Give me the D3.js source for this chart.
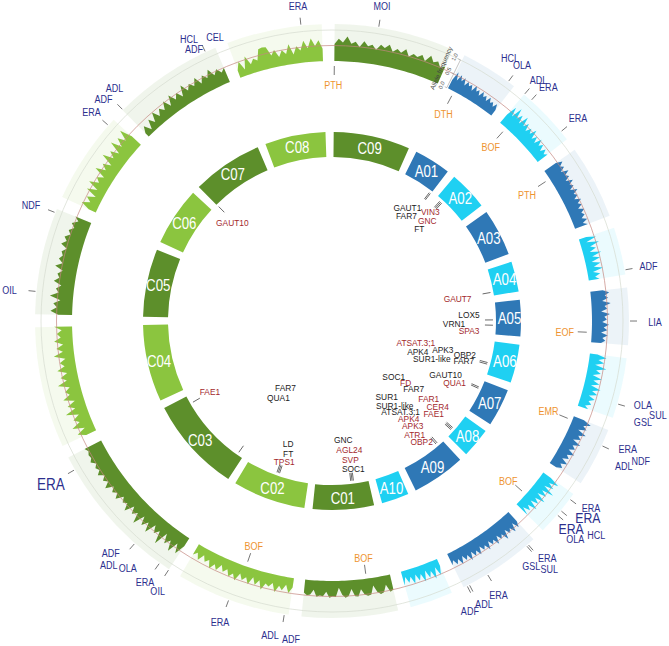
<!DOCTYPE html>
<html>
<head>
<meta charset="utf-8">
<script src="https://cdn.jsdelivr.net/npm/d3@7"></script>
<style>
  body { margin: 0; background: #fff; }
  text { font-family: "Liberation Sans", Arial, sans-serif; }
</style>
</head>
<body>
<svg id="chart" width="669" height="646"></svg>
<script>
// Chromosomes of the A and C sub-genomes (Mb)
const chrNames = ["A01","A02","A03","A04","A05","A06","A07","A08","A09","A10",
                  "C01","C02","C03","C04","C05","C06","C07","C08","C09"];
const chrLengths = [23.3,24.8,29.8,19.2,23.1,24.4,24.0,18.9,33.9,17.4,
                    38.8,46.2,60.6,48.9,43.1,37.2,44.8,38.5,48.5];

// Allele frequency profile along each chromosome
const afA01 = [.30,.62,.35,.58,.40,.55,.33,.50,.38,.47,.30,.52,.36,.45,.28,.48,.33,.42,.27,.45,.30,.38,.25,.40,.22];
const afA02 = [.35,.70,.40,.78,.45,.65,.38,.72,.42,.60,.36,.55,.40,.62,.33,.50,.30,.55,.35,.48,.28,.45,.30,.40];
const afA03 = [.45,.65,.50,.60,.42,.66,.48,.58,.40,.62,.45,.55,.38,.60,.42,.52,.36,.56,.40,.50,.34,.52,.38,.46,.32,.48,.30,.44];
const afA04 = [.25,.55,.20,.60,.28,.45,.22,.58,.26,.50,.20,.48,.24,.52,.18,.40,.22,.35];
const afA05 = [.40,.60,.45,.55,.35,.62,.42,.50,.30,.58,.40,.48,.33,.55,.38,.50,.30,.52,.35,.45,.32];
const afA06 = [.25,.55,.30,.50,.22,.60,.28,.45,.20,.52,.26,.48,.22,.56,.30,.50,.24,.46,.28,.40,.22,.35];
const afA07 = [.35,.62,.40,.55,.30,.60,.38,.50,.28,.58,.35,.48,.30,.55,.33,.45,.26,.50,.30,.42,.25];
const afA08 = [.30,.65,.35,.58,.28,.70,.32,.55,.26,.62,.30,.50,.25,.58,.28,.45,.22,.50];
const afA09 = [.40,.58,.35,.62,.42,.55,.36,.65,.40,.52,.34,.60,.38,.50,.32,.58,.36,.48,.30,.55,.35,.50,.30,.56,.33,.47,.28,.52,.30,.45,.26,.40];
const afA10 = [.25,.52,.22,.58,.28,.48,.20,.55,.26,.45,.22,.50,.24,.42,.20,.46];
const afC01 = [.50,.55,.30,.52,.56,.48,.25,.53,.55,.50,.32,.54,.52,.28,.50,.55,.45,.22,.52,.50,.54,.35,.50,.48,.52,.30,.46,.50,.42];
const afC02 = [.30,.50,.25,.45,.32,.55,.28,.42,.35,.58,.30,.48,.26,.52,.33,.46,.28,.55,.36,.50,.30,.44,.25,.48,.32,.52,.28,.40,.22,.45,.25,.38];
const afC03 = [.30,.65,.35,.72,.40,.60,.30,.78,.38,.55,.32,.70,.40,.62,.35,.75,.42,.58,.36,.68,.45,.55,.40,.65,.48,.60,.45,.70,.50,.62,.48,.66,.52,.60,.50,.64,.55,.58,.52,.60];
const afC04 = [.35,.60,.30,.68,.38,.55,.32,.72,.36,.58,.30,.65,.40,.52,.34,.70,.38,.56,.32,.62,.36,.50,.30,.66,.35,.55,.32,.60,.38,.50,.34,.58];
const afC05 = [.45,.70,.50,.62,.40,.75,.48,.58,.42,.68,.52,.60,.45,.72,.50,.65,.55,.62,.48,.70,.55,.66,.50,.60,.45,.58,.40,.55];
const afC06 = [.25,.55,.30,.48,.22,.60,.28,.65,.35,.50,.30,.70,.38,.58,.32,.75,.40,.62,.35,.78,.42,.70,.45,.80,.40];
const afC07 = [.15,.35,.10,.40,.20,.50,.25,.45,.30,.55,.28,.60,.35,.52,.30,.65,.38,.55,.40,.62,.35,.58,.42,.66,.40,.55,.38,.50];
const afC08 = [.25,.50,.20,.60,.30,.45,.35,.70,.72,.70,.40,.55,.30,.50,.35,.65,.30,.55,.40,.70,.45,.75,.50,.68,.40];
const afC09 = [.55,.72,.60,.80,.58,.65,.50,.70,.55,.62,.48,.66,.58,.72,.52,.64,.55,.70,.50,.62,.56,.68,.52,.75,.58,.66,.50,.60];
const alleleFreq = [afA01,afA02,afA03,afA04,afA05,afA06,afA07,afA08,afA09,afA10,
                    afC01,afC02,afC03,afC04,afC05,afC06,afC07,afC08,afC09];

// Trait associations (outer labels): chromosome, positions (Mb), trait names
const traitMarks = [
  {chr:"C09", mb:[17.6], text:["MOI"]},
  {chr:"C08", mb:[30.2], text:["ERA"]},
  {chr:"A01", mb:[20.4], text:["HCL","OLA"]},
  {chr:"A02", mb:[0.1],  text:["ADL"]},
  {chr:"A02", mb:[3.7],  text:["ERA"]},
  {chr:"A02", mb:[20.9], text:["ERA"]},
  {chr:"A04", mb:[17.3], text:["ADF"]},
  {chr:"A05", mb:[13.4], text:["LIA"]},
  {chr:"A06", mb:[18.6], text:["OLA","SUL","GSL"]},
  {chr:"A07", mb:[6.8],  text:["ERA","ADL","NDF"]},
  {chr:"A08", mb:[2.5],  text:["ERA"]},
  {chr:"A08", mb:[8.3],  text:["ERA"]},
  {chr:"A08", mb:[10.5], text:["ERA","OLA","HCL"]},
  {chr:"A09", mb:[3.0,3.8], text:["ERA","GSL","SUL"]},
  {chr:"A09", mb:[23.1], text:["ERA"]},
  {chr:"A09", mb:[31.4,32.4], text:["ADL","ADF"]},
  {chr:"C02", mb:[24.6], text:["ERA"]},
  {chr:"C02", mb:[1.7],  text:["ADL","ADF"]},
  {chr:"C03", mb:[4.5],  text:["ERA"]},
  {chr:"C03", mb:[0.0],  text:["OIL"]},
  {chr:"C03", mb:[17.1], text:["ADF","ADL","OLA"]},
  {chr:"C03", mb:[55.1], text:["ERA"]},
  {chr:"C05", mb:[9.1],  text:["OIL"]},
  {chr:"C05", mb:[41.5], text:["NDF"]},
  {chr:"C06", mb:[34.1], text:["ERA"]},
  {chr:"C07", mb:[0.2],  text:["ADF","ADL"]},
  {chr:"C07", mb:[40.5], text:["HCL","CEL","ADF"]}
];

// Selection signals (orange labels inside the track)
const signalMarks = [
  {chr:"C09", mb:[0.0],  text:"PTH"},
  {chr:"A01", mb:[3.1],  text:"DTH"},
  {chr:"A02", mb:[3.7],  text:"BOF"},
  {chr:"A03", mb:[4.3],  text:"PTH"},
  {chr:"A05", mb:[18.6], text:"EOF"},
  {chr:"A07", mb:[1.9],  text:"EMR"},
  {chr:"A08", mb:[12.8], text:"BOF"},
  {chr:"C01", mb:[10.9], text:"BOF"},
  {chr:"C02", mb:[22.5], text:"BOF"}
];

// Candidate genes (inner labels); tone k = black, r = red
const geneMarks = [
  {chr:"A01", mb:[22.0,23.0], text:[["GAUT1","k"],["FAR7","k"]]},
  {chr:"A02", mb:[3.5,4.5,5.5], text:[["VIN3","r"],["GNC","r"],["FT","k"]]},
  {chr:"A04", mb:[16.7], text:[["GAUT7","r"]]},
  {chr:"A05", mb:[12.6,16.5], text:[["LOX5","k"],["VRN1","k"],["SPA3","r"]]},
  {chr:"A06", mb:[16.0,17.2], text:[["ATSAT.3;1","r"],["APK4","k"],["APK3","k"],["OBP2","k"],["SUR1-like","k"],["FAR7","k"]]},
  {chr:"A07", mb:[5.5,6.6], text:[["GAUT10","k"],["QUA1","r"]]},
  {chr:"A08", mb:[12.0,13.0,14.0], text:[["SOC1","k"],["FD","r"],["FAR7","k"],["SUR1","k"],["FAR1","r"],["SUR1-like","k"],["CER4","r"],["ATSAT.3;1","k"],["FAE1","r"],["APK4","r"],["APK3","r"],["ATR1","r"],["OBP2","r"]]},
  {chr:"A09", mb:[4.0,5.2], text:[]},
  {chr:"C01", mb:[10.8,11.8,12.8], text:[["GNC","k"],["AGL24","r"],["SVP","r"],["SOC1","k"]]},
  {chr:"C02", mb:[21.9,22.9,23.9], text:[["LD","k"],["FT","k"],["TPS1","r"]]},
  {chr:"C03", mb:[4.3], text:[["FAR7","k"],["QUA1","k"]]},
  {chr:"C03", mb:[54.6], text:[["FAE1","r"]]},
  {chr:"C07", mb:[0.2], text:[["GAUT10","r"]]}
];

// ---- layout (label nudges in px, relative to the tick end) ----
const traitLayout = [
  [[2,-14]], [[-2,-11]], [[-3,-17],[9,-10]], [[9,-8]], [[12,-7]], [[11,-8]], [[16,-2]], [[18,1]],
  [[18,-1],[33,9],[18,16]], [[19,0],[15,17],[32,12]], [[15,4]], [[21,2,15]],
  [[8,9,15],[12,19],[33,15]], [[14,8],[-2,16],[16,19]], [[7,14]], [[11,13],[-3,20]],
  [[-6,15]], [[-13,13],[8,17]], [[-10,13]], [[-7,15]], [[-19,4],[-21,16],[-2,19]],
  [[-17,10,16.5]], [[-19,0]], [[-17,-5]], [[-11,-8]], [[-14,-5],[-3,-16]],
  [[-13,-6],[13,-8],[-8,4]]
];
const signalLayout = [[-1,10],[-4,10],[-6,9],[-11,9],[-13,0],[-11,-4],[-7,-4],[-1,-7],[3,-7]];
const geneLayout = [
  [[-17,9],[-18,17]],
  [[-4,5],[-7,14],[-15,22]],
  [[-25,5]],
  [[-16,-5],[-31,4],[-16,11]],
  [[-64,-18],[-62,-9],[-37,-11],[-15,-6],[-48,-2],[-16,0]],
  [[-26,-9],[-17,-1]],
  [[-53,-45],[-41,-39],[-33,-33],[-60,-25],[-18,-23],[-52,-16],[-9,-15],[-46,-10],[-13,-8],[-38,-3],[-34,4],[-32,13],[-25,20]],
  [],
  [[-9,-33],[-3,-23],[-2,-13],[1,-4]],
  [[6,-22],[6,-12],[2,-4]],
  [[42,-58],[35,-48]],
  [[10,-6]],
  [[8,11]]
];

const cx = 332, cy = 321;
const startDeg = 26.5, gapDeg = 2.5;
const ringIn = 164, ringOut = 189;
const trackBase = 260, trackTop = 291, bandOut = 297;
const palette = { A: ["#2f78b6", "#1fd0f2"], C: ["#5d8f2b", "#8bc53f"] };
const tone = { k: "#1b1b1b", r: "#a3282c" };
const traitColor = "#2c2f8e", signalColor = "#ee9430";
const squeeze = 0.82;

const rad = d => d * Math.PI / 180;
const polar = (deg, r) => [r * Math.sin(rad(deg)), -r * Math.cos(rad(deg))];

// Angular layout of the chromosomes
const degPerMb = (360 - gapDeg * chrNames.length) / d3.sum(chrLengths);
let acc = startDeg;
const chrs = chrNames.map((name, i) => {
  const start = acc;
  const end = start + chrLengths[i] * degPerMb;
  acc = end + gapDeg;
  const j = name[0] === "A" ? i : i - 10;
  return {
    name, start, end,
    color: palette[name[0]][j % 2],
    values: alleleFreq[i],
    pos: d3.scaleLinear().domain([0, chrLengths[i]]).range([start, end])
  };
});
const chrByName = new Map(chrs.map(c => [c.name, c]));
const freq = d3.scaleLinear().domain([0, 1]).range([trackBase, trackTop]);

const svg = d3.select("#chart");
const g = svg.append("g").attr("transform", `translate(${cx},${cy})`);

function label(parent, x, y, str, size, color, sx) {
  parent.append("text")
    .attr("transform", `translate(${x},${y}) scale(${sx},1)`)
    .attr("text-anchor", "middle")
    .attr("dominant-baseline", "central")
    .attr("font-size", size)
    .attr("fill", color)
    .text(str);
}

// Background bands of the allele frequency track
const arc = d3.arc();
g.append("g").selectAll("path")
  .data(chrs)
  .join("path")
  .attr("d", d => arc({innerRadius: trackBase, outerRadius: bandOut, startAngle: rad(d.start), endAngle: rad(d.end)}))
  .attr("fill", d => d.color)
  .attr("fill-opacity", 0.09);

// Histograms
const area = d3.areaRadial()
  .angle(d => rad(d.a))
  .innerRadius(trackBase)
  .outerRadius(d => freq(d.v))
  .curve(d3.curveLinear);

g.append("g").selectAll("path")
  .data(chrs)
  .join("path")
  .attr("d", c => area(c.values.map((v, i) => ({a: c.start + (c.end - c.start) * i / (c.values.length - 1), v}))))
  .attr("fill", d => d.color);

// Reference circles (0.5 in red, 1.0 in grey)
g.append("circle").attr("r", freq(1)).attr("fill", "none").attr("stroke", "#d5dbd0").attr("stroke-width", 0.7);
g.append("circle").attr("r", freq(0.5)).attr("fill", "none").attr("stroke", "#c48680").attr("stroke-width", 0.7);

// Axis of the track
const axisDeg = startDeg - 0.3;
const axisG = g.append("g");
axisG.append("line")
  .attr("x1", polar(axisDeg, freq(0))[0]).attr("y1", polar(axisDeg, freq(0))[1])
  .attr("x2", polar(axisDeg, freq(1))[0]).attr("y2", polar(axisDeg, freq(1))[1])
  .attr("stroke", "#888").attr("stroke-width", 0.5);
[0, 0.5, 1].forEach(v => {
  const [x1, y1] = polar(axisDeg, freq(v));
  const [x2, y2] = polar(axisDeg - 0.5, freq(v));
  axisG.append("line").attr("x1", x1).attr("y1", y1).attr("x2", x2).attr("y2", y2)
    .attr("stroke", "#888").attr("stroke-width", 0.5);
  const [tx, ty] = polar(axisDeg - 1.3, freq(v));
  axisG.append("text")
    .attr("transform", `translate(${tx},${ty}) rotate(${axisDeg - 1.3 - 90})`)
    .attr("text-anchor", "middle").attr("dominant-baseline", "central")
    .attr("font-size", 5.5).attr("fill", "#444")
    .text(d3.format(".1f")(v));
});
{
  const a = axisDeg - 2.9;
  const [tx, ty] = polar(a, freq(0.5));
  axisG.append("text")
    .attr("transform", `translate(${tx},${ty}) rotate(${a - 90})`)
    .attr("text-anchor", "middle").attr("dominant-baseline", "central")
    .attr("font-size", 6.5).attr("fill", "#444")
    .text("Allele frequency");
}

// Chromosome ring
g.append("g").selectAll("path")
  .data(chrs)
  .join("path")
  .attr("d", d => arc({innerRadius: ringIn, outerRadius: ringOut, startAngle: rad(d.start), endAngle: rad(d.end)}))
  .attr("fill", d => d.color);

const ringLabels = g.append("g");
chrs.forEach(c => {
  const [x, y] = polar((c.start + c.end) / 2, (ringIn + ringOut) / 2 + 1);
  label(ringLabels, x, y, c.name, 17, "#fff", 0.78);
});

// Annotation ticks + labels
function ticks(parent, mark, r1, r2, color, width) {
  const c = chrByName.get(mark.chr);
  mark.mb.forEach(mb => {
    const a = c.pos(mb);
    const [x1, y1] = polar(a, r1);
    const [x2, y2] = polar(a, r2);
    parent.append("line").attr("x1", x1).attr("y1", y1).attr("x2", x2).attr("y2", y2)
      .attr("stroke", color).attr("stroke-width", width);
  });
  return c.pos(mark.mb[0]);
}

const traitG = g.append("g");
traitMarks.forEach((m, i) => {
  const a = ticks(traitG, m, 298, 305, "#555", 0.8);
  const [bx, by] = polar(a, 305);
  m.text.forEach((t, k) => {
    const [dx, dy, size] = traitLayout[i][k];
    label(traitG, bx + dx, by + dy, t, size || 11, traitColor, squeeze);
  });
});

const signalG = g.append("g");
signalMarks.forEach((m, i) => {
  const a = ticks(signalG, m, 246, 255, "#555", 0.8);
  const [bx, by] = polar(a, 246);
  const [dx, dy] = signalLayout[i];
  label(signalG, bx + dx, by + dy, m.text, 11, signalColor, squeeze);
});

const geneG = g.append("g");
geneMarks.forEach((m, i) => {
  const a = ticks(geneG, m, 153, 161, "#444", 0.8);
  const [bx, by] = polar(a, 153);
  m.text.forEach(([t, k], j) => {
    const [dx, dy] = geneLayout[i][j];
    label(geneG, bx + dx, by + dy, t, 9.5, tone[k], 0.88);
  });
});
</script>
</body>
</html>
